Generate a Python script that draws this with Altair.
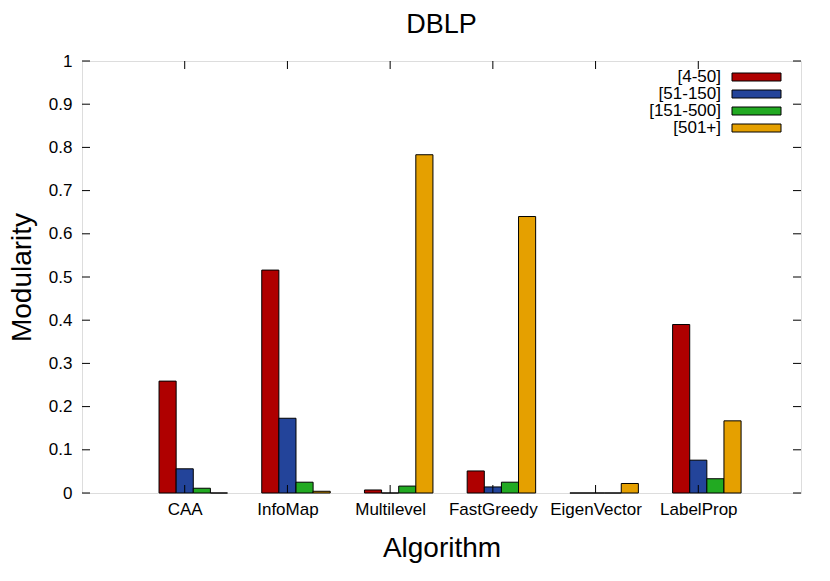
import altair as alt
import pandas as pd

algorithms = ["CAA", "InfoMap", "Multilevel", "FastGreedy", "EigenVector", "LabelProp"]
series = ["[4-50]", "[51-150]", "[151-500]", "[501+]"]
v_4_50 = [0.259, 0.516, 0.007, 0.051, 0.0, 0.390]
v_51_150 = [0.056, 0.173, 0.0, 0.014, 0.0, 0.076]
v_151_500 = [0.011, 0.025, 0.016, 0.025, 0.0, 0.033]
v_501 = [0.0, 0.004, 0.783, 0.640, 0.022, 0.167]
colors = ["#af0000", "#23449a", "#22aa22", "#e5a000"]
y_ticks = [0, 0.1, 0.2, 0.3, 0.4, 0.5, 0.6, 0.7, 0.8, 0.9, 1]

FONT = "Liberation Sans"
W, H = 719, 432
NB = 6.0  # slots per category (4 bars + 2 gap)

rows = []
for k, (s, vals) in enumerate(zip(series, [v_4_50, v_51_150, v_151_500, v_501])):
    for i, (a, v) in enumerate(zip(algorithms, vals)):
        rows.append({"alg": a, "series": s, "order": k, "value": v,
                     "x0": i + (k - 1.5) / NB, "x1": i + (k - 0.5) / NB})
df = pd.DataFrame(rows)
legend_df = pd.DataFrame({"series": series})

xscale = alt.Scale(domain=[-1, len(algorithms)], nice=False, zero=False)
yscale = alt.Scale(domain=[0, 1], nice=False)
cscale = alt.Scale(domain=series, range=colors)

label_expr = "[" + ",".join("'" + a + "'" for a in algorithms) + "][datum.value]"

bars = alt.Chart(df).mark_rect(stroke="black", strokeWidth=1).encode(
    x=alt.X("x0:Q", scale=xscale,
            axis=alt.Axis(values=list(range(len(algorithms))), labelExpr=label_expr,
                          title="Algorithm", grid=False, ticks=False, tickSize=0,
                          domain=False, labelFontSize=17, labelFont=FONT,
                          labelColor="black", labelPadding=8, titleFontSize=28,
                          titleFont=FONT, titleFontWeight="normal", titleColor="black",
                          titlePadding=17)),
    x2="x1:Q",
    y=alt.Y("value:Q", scale=yscale,
            axis=alt.Axis(values=y_ticks, format=".1~f", title="Modularity", grid=False,
                          ticks=False, tickSize=0, domain=False, labelFontSize=17,
                          labelFont=FONT, labelColor="black", labelPadding=10,
                          titleFontSize=28, titleFont=FONT, titleFontWeight="normal",
                          titleColor="black", titlePadding=12)),
    y2=alt.datum(0),
    fill=alt.Fill("series:N", scale=cscale, legend=None),
    order=alt.Order("order:Q"),
)

ydf = pd.DataFrame({"v": y_ticks})
xdf = pd.DataFrame({"p": list(range(len(algorithms)))})

ytick_l = alt.Chart(ydf).mark_rule(color="black", strokeWidth=1).encode(
    y=alt.Y("v:Q", scale=yscale), x=alt.value(0), x2=alt.value(8))
ytick_r = alt.Chart(ydf).mark_rule(color="black", strokeWidth=1).encode(
    y=alt.Y("v:Q", scale=yscale), x=alt.value(W - 8), x2=alt.value(W))
xtick_b = alt.Chart(xdf).mark_rule(color="black", strokeWidth=1).encode(
    x=alt.X("p:Q", scale=xscale), y=alt.value(H), y2=alt.value(H - 8))
xtick_t = alt.Chart(xdf).mark_rule(color="black", strokeWidth=1).encode(
    x=alt.X("p:Q", scale=xscale), y=alt.value(0), y2=alt.value(8))

main = alt.layer(bars, ytick_l, ytick_r, xtick_b, xtick_t)

# key (labels to the left of the swatches, gnuplot style)
lscale = alt.Scale(type="point", domain=series, range=[16, 67], padding=0)
key_text = alt.Chart(legend_df).mark_text(
    align="right", baseline="middle", fontSize=17, font=FONT, color="black"
).encode(
    y=alt.Y("series:N", scale=lscale, axis=None),
    x=alt.value(639),
    text="series:N",
)
key_swatch = alt.Chart(legend_df).mark_tick(
    orient="horizontal", size=49, thickness=8, opacity=1,
    stroke="black", strokeWidth=1
).encode(
    y=alt.Y("series:N", scale=lscale, axis=None),
    x=alt.value(674.5),
    fill=alt.Fill("series:N", scale=cscale, legend=None),
)
key = alt.layer(key_text, key_swatch)

chart = alt.layer(main, key).resolve_scale(y="independent").properties(
    width=W, height=H,
    title=alt.TitleParams("DBLP", fontSize=27, font=FONT, fontWeight="normal",
                          color="black", offset=13, anchor="middle"),
    autosize=alt.AutoSizeParams(type="none"),
    padding={"left": 74, "top": 53, "right": 15, "bottom": 70},
).configure_view(stroke="#222222", strokeWidth=1.5).configure(background="white")

chart.save("out.html", embed_options={"renderer": "svg", "actions": False})
